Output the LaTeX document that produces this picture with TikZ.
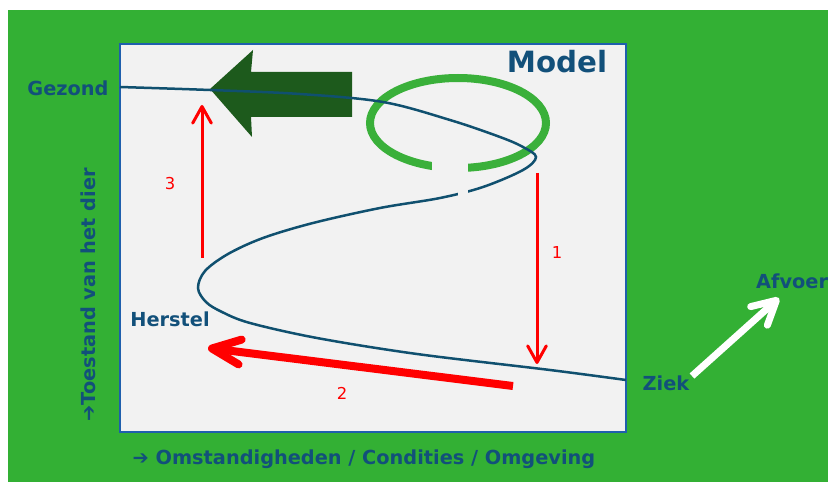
\documentclass[tikz,border=0pt]{standalone}
\usepackage{fontspec}
\setmainfont{DejaVu Sans}
\newfontfamily\pijlfont{DejaVu Sans}
\usetikzlibrary{arrows.meta}
\definecolor{mdgroen}{HTML}{33B034}
\definecolor{mdgroenring}{HTML}{3AB03A}
\definecolor{mdgroendonker}{HTML}{1D5A1C}
\definecolor{mdblauw}{HTML}{12507A}
\definecolor{mdlijn}{HTML}{10506F}
\definecolor{mdkader}{HTML}{1F5FAD}
\definecolor{mdpaneel}{HTML}{F2F2F2}
\definecolor{mdrood}{HTML}{FF0000}
\tikzset{
  mdtekst/.style={text=mdblauw, font=\fontsize{16.5}{19}\selectfont\bfseries, inner sep=0pt},
  mdcijfer/.style={text=mdrood, font=\fontsize{14}{16}\selectfont, inner sep=0pt},
  mdpijldun/.style={-{Straight Barb[length=5mm, width=5.6mm, round]}, line width=0.9mm, draw=mdrood},
  mdpijldik/.style={-{Straight Barb[length=8.5mm, width=7.5mm, round]}, line width=2.4mm, draw=mdrood},
  mdpijlwit/.style={-{Straight Barb[length=7mm, width=7.5mm, round]}, line width=2.1mm, draw=white},
}

\begin{document}
\begin{tikzpicture}[x=0.03cm, y=-0.03cm]
        \useasboundingbox (0,0) rectangle (828,482);
        % ---------------- achtergrond en paneel ----------------
        \fill[mdgroen] (8,10) rectangle (828,482);
        \draw[mdkader, fill=mdpaneel, line width=0.6mm] (120,44) rectangle (626,432);
        % ---------------- ring en grote pijl ----------------
        \draw[mdgroenring, line width=2.4mm] (458,123) ellipse [x radius=88, y radius=45];
        \fill[mdpaneel] (432,158) rectangle (468,180);
        \fill[mdgroendonker] (210,89) -- (253,50) -- (251,72) -- (352,72) -- (352,117) -- (251,117) -- (252,137) -- cycle;
        % ---------------- toestandscurve ----------------
        \draw[mdlijn, line width=0.75mm] plot[smooth, tension=0.55] coordinates {
          (120,87) (210,90) (300,94) (383,102) (450,120) (500,137) (523,147) (536,157)
          (523,170) (483,187) (440,198) (380,208) (313,223) (263,238) (228,254)
          (205,271) (198,288) (206,302) (222,312) (250,323) (317,338) (417,354) (550,370) (626,380)};
        \fill[mdpaneel] (457.5,186) rectangle (467.5,203);
        % ---------------- teksten ----------------
        \node[mdtekst] (gezond) at (68,88) {Gezond};
        \node[mdtekst] (herstel) at (170,319) {Herstel};
        \node[mdtekst] (ziek) at (666,383) {Ziek};
        \node[mdtekst, anchor=west] (afvoer) at (756,281) {Afvoer};
        \node[mdtekst, font=\fontsize{25}{30}\selectfont\bfseries] (model) at (557,62) {Model};
        \node[mdtekst, rotate=90] (toestand) at (88,295) {{\pijlfont ➔}Toestand van het dier};
        \node[mdtekst] (omstandigheden) at (364,459) {{\pijlfont ➔} Omstandigheden / Condities / Omgeving};
        % ---------------- stappen ----------------
        \coordinate (s1a) at (537,173);
        \coordinate (s1b) at (537,364);
        \coordinate (s2a) at (513,386);
        \coordinate (s2b) at (208,348);
        \coordinate (s3a) at (202,258);
        \coordinate (s3b) at (202,105);
        \coordinate (wa) at (692,376);
        \coordinate (wb) at (779,298);
        \node[mdcijfer] (een) at (557,253) {1};
        \node[mdcijfer] (twee) at (342,393) {2};
        \node[mdcijfer] (drie) at (170,184) {3};
        \draw[mdpijldun] (s1a) -- (s1b);
        \draw[mdpijldik] (s2a) -- (s2b);
        \draw[mdpijldun] (s3a) -- (s3b);
        \draw[mdpijlwit] (wa) -- (wb);
    \end{tikzpicture}
\end{document}
